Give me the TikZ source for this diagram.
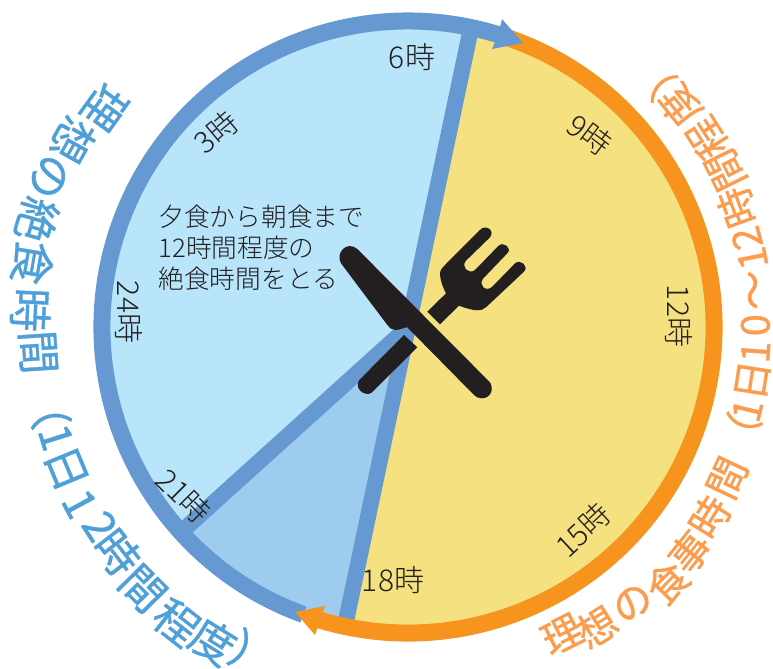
\documentclass[tikz,border=0pt]{standalone}
\usepackage{fontspec}
\usetikzlibrary{calc}
\newfontfamily\cjkplain[FakeBold=0.8]{Noto Sans CJK JP}
\newfontfamily\cjklight{Noto Sans CJK JP Light}
\definecolor{fastring}{HTML}{6699D1}
\definecolor{mealring}{HTML}{F7941E}
\definecolor{fastfill}{HTML}{B8E5FA}
\definecolor{nightfill}{HTML}{9DCCEE}
\definecolor{mealfill}{HTML}{F5E180}
\definecolor{cutlery}{HTML}{231F20}
\definecolor{fasttext}{HTML}{4F9FD8}
\definecolor{mealtext}{HTML}{FB9C4F}
\tikzset{
  every picture/.style={line width=0.75pt},
  hourlabel/.style={inner sep=0pt,text=cutlery,font=\cjklight\fontsize{22.5}{22.5}\selectfont},
  fastlabel/.style={inner sep=0pt,text=fasttext,text height=29pt,text depth=4pt,font=\cjkplain\fontsize{33}{33}\selectfont},
  meallabel/.style={inner sep=0pt,text=mealtext,text height=26pt,text depth=4pt,font=\cjkplain\fontsize{30}{30}\selectfont},
  ringline/.style={line width=12.75pt},
  spokeline/.style={line width=12pt,draw=fastring}
}
\begin{document}
\begin{tikzpicture}[x=0.75pt,y=0.75pt,yscale=-1,xscale=1]
\useasboundingbox (0,0) rectangle (773,668);
\coordinate (hub) at (408,327);

%Shape: Disc
\fill [fastfill] (hub) circle (306);
\fill [mealfill] (hub) -- ++(-78.1:306) arc [start angle=-78.1,end angle=101.9,radius=306] -- cycle;
\fill [nightfill] (hub) -- ++(-222.1:306) arc [start angle=-222.1,end angle=-258.1,radius=306] -- cycle;

%Shape: Spokes
\coordinate (wake) at ($(hub)+(-78.1:306)$);
\coordinate (supper) at ($(hub)+(-258.1:306)$);
\coordinate (night) at ($(hub)+(-222.1:306)$);
\draw [spokeline] (wake) -- (supper);
\draw [spokeline] (hub) -- (night);

%Shape: Rings
\draw [ringline,draw=fastring] (hub) ++(-250:306) arc [start angle=-250,end angle=-72.5,radius=306];
\draw [ringline,draw=mealring] (hub) ++(-71:306) arc [start angle=-71,end angle=107.5,radius=306];
\fill [fastring] (502,19) -- (523,43) -- (492,49) -- (498,35) -- cycle;
\fill [mealring] (295,612) -- (325,606) -- (320,620) -- (315,635) -- cycle;

%Shape: Knife and fork
\begin{scope}[shift={(330,210)},scale=0.3333]
\fill [cutlery] (82,117) -- (478,515) .. controls (492,530) and (487,565) .. (455,565) .. controls (445,565) and (438,561) .. (432,555) -- (232,352) .. controls (220,352) and (212,360) .. (195,360) .. controls (185,360) and (178,353) .. (172,345) -- (33,160) .. controls (15,130) and (50,90) .. (82,117) -- cycle;
\fill [cutlery] (222,375) -- (262,412) -- (125,548) .. controls (105,562) and (70,535) .. (88,510) -- cycle;
\fill [cutlery] (292,305) -- (348,250) .. controls (335,225) and (330,205) .. (330,190) .. controls (330,180) and (338,172) .. (345,165) -- (450,60) .. controls (465,42) and (497,60) .. (480,82) -- (408,152) .. controls (392,170) and (415,195) .. (435,180) -- (505,108) .. controls (520,92) and (548,115) .. (532,130) -- (460,205) .. controls (443,225) and (468,248) .. (487,230) -- (555,160) .. controls (572,145) and (598,170) .. (582,185) -- (470,290) .. controls (455,305) and (435,305) .. (387,287) -- (330,343) -- cycle;
\end{scope}

% Text Node
\node [hourlabel] (six) at (412,57) {6時};
\node [hourlabel,rotate=40] (three) at (216,132) {3時};
\node [hourlabel,rotate=-37] (nine) at (590,135) {9時};
\node [hourlabel,rotate=-90] (twelve) at (679,316) {12時};
\node [hourlabel,rotate=-90] (midnight) at (129,312) {24時};
\node [hourlabel,rotate=43] (fifteen) at (583,530) {15時};
\node [hourlabel] (eighteen) at (393,580) {18時};
\node [hourlabel,rotate=-45] (twentyone) at (184,496) {21時};
% Text Node
\node [anchor=north west,inner sep=0pt,align=left,text=cutlery,font=\cjklight\fontsize{19.3}{23.2}\selectfont] (note) at (158,205) {夕食から朝食まで\\12時間程度の\\絶食時間をとる};

% Text Node
\foreach \ch/\ang/\rad [count=\i] in {理/144.1/374,想/150.9/384,の/157.3/388,絶/163.9/386,食/170.3/381,時/177.4/378,間/183.9/370,（/192.4/369,1/197.4/368,日/202.5/369,1/208.3/372,2/212.9/366,時/217.8/368,間/224.6/372,程/231.9/375,度/238.2/370,）/244.6/362}
  \node [fastlabel,rotate=\ang+90] (fast\i) at ({408+\rad*cos(\ang)},{327-\rad*sin(\ang)}) {\ch};
\foreach \ch/\ang/\rad [count=\i] in {理/296.6/344,想/302.2/355,の/309.1/355,食/315.4/365,事/321.4/361,時/327.8/357,間/334.7/353,（/342.1/349,1/346.2/349,日/351.2/348,1/355.9/348,0/0.3/347,～/6.1/347,1/11.3/351,2/14.7/350,時/20/351,間/26.3/354,程/32.3/354,度/39.2/351,）/45.5/350}
  \node [meallabel,rotate=\ang+90] (meal\i) at ({408+\rad*cos(\ang)},{327-\rad*sin(\ang)}) {\ch};

\end{tikzpicture}
\end{document}
